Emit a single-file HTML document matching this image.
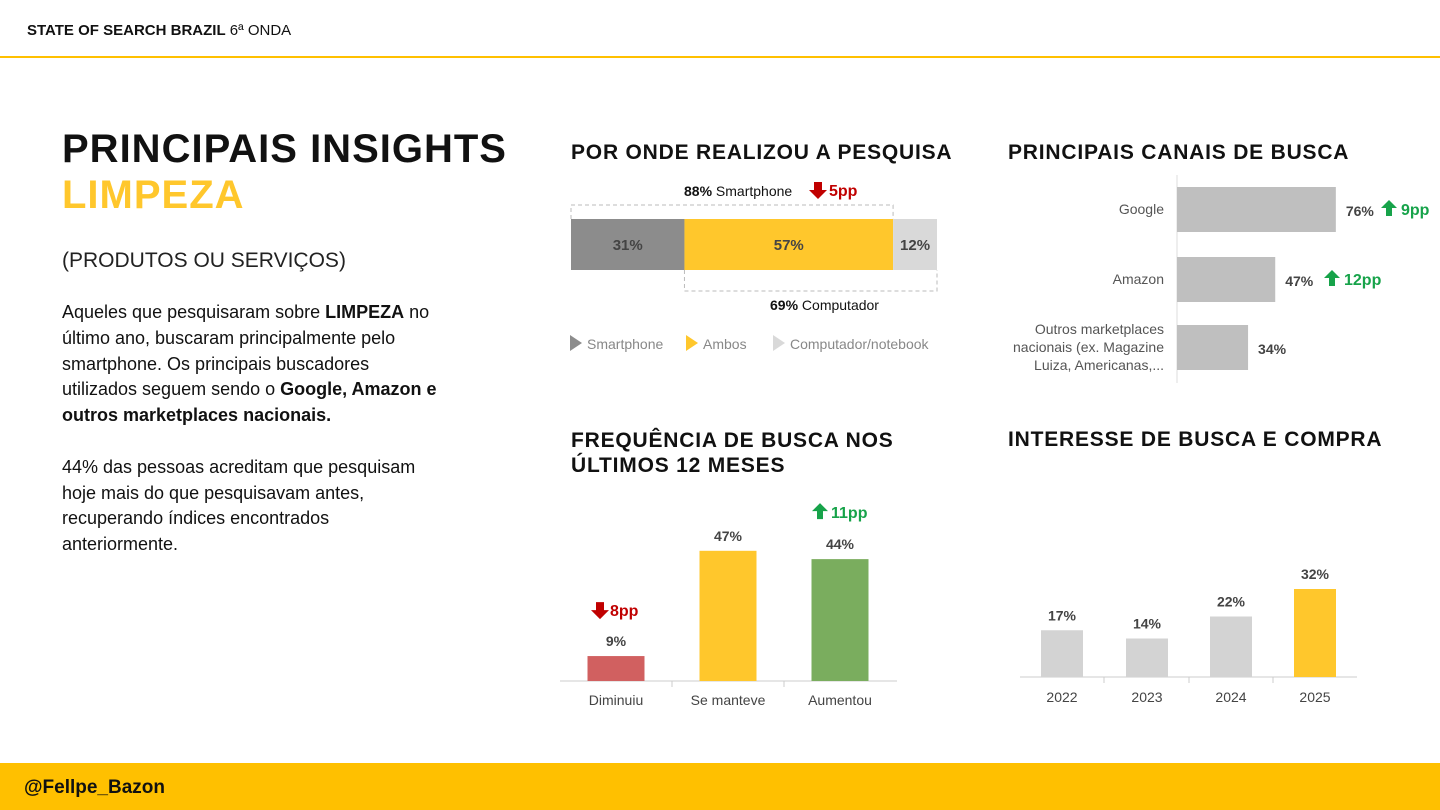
<!DOCTYPE html>
<html><head><meta charset="utf-8"><style>
body{margin:0;width:1440px;height:810px;position:relative;background:#fff;font-family:"Liberation Sans",sans-serif;overflow:hidden}
.a{position:absolute;white-space:nowrap}
.h{font-weight:bold;font-size:21px;color:#111;letter-spacing:0.8px}
</style></head><body>
<div class="a" style="left:27px;top:22px;font-size:15px;color:#111"><b>STATE OF SEARCH BRAZIL</b> 6ª ONDA</div>
<div class="a" style="left:0;top:56px;width:1440px;height:2px;background:#FFC000"></div>
<div class="a" style="left:62px;top:126px;font-size:40px;font-weight:bold;color:#111;line-height:46px;letter-spacing:1px">PRINCIPAIS INSIGHTS<br><span style="color:#FFC72C">LIMPEZA</span></div>
<div class="a" style="left:62px;top:249px;font-size:21px;color:#222">(PRODUTOS OU SERVIÇOS)</div>
<div class="a" style="left:62px;top:300px;font-size:18px;line-height:25.8px;color:#111;white-space:normal;width:380px">Aqueles que pesquisaram sobre <b>LIMPEZA</b> no último ano, buscaram principalmente pelo smartphone. Os principais buscadores utilizados seguem sendo o <b>Google, Amazon e outros marketplaces nacionais.</b><br><br>44% das pessoas acreditam que pesquisam hoje mais do que pesquisavam antes, recuperando índices encontrados anteriormente.</div>
<div class="a h" style="left:571px;top:141px">POR ONDE REALIZOU A PESQUISA</div>
<div class="a h" style="left:1008px;top:141px">PRINCIPAIS CANAIS DE BUSCA</div>
<div class="a h" style="left:571px;top:428px;line-height:25px">FREQUÊNCIA DE BUSCA NOS<br>ÚLTIMOS 12 MESES</div>
<div class="a h" style="left:1008px;top:428px">INTERESSE DE BUSCA E COMPRA</div>
<svg class="a" style="left:0;top:0" width="1440" height="810" id="s"></svg>
<div class="a" style="left:0;top:763px;width:1440px;height:47px;background:#FFC000"></div>
<div class="a" style="left:24px;top:777px;font-size:19px;font-weight:bold;color:#111">@Fellpe_Bazon</div>
<script>
const devCats=["Smartphone","Ambos","Computador/notebook"];
const devVals=[31,57,12];
const chCats=["Google","Amazon","Outros marketplaces|nacionais (ex. Magazine|Luiza, Americanas,..."];
const chVals=[76,47,34];
const chDelta=["9pp","12pp",""];
const frCats=["Diminuiu","Se manteve","Aumentou"];
const frVals=[9,47,44];
const inCats=["2022","2023","2024","2025"];
const inVals=[17,14,22,32];
const S=document.getElementById('s');const NS="http://www.w3.org/2000/svg";
function el(t,a,txt){const e=document.createElementNS(NS,t);for(const k in a)e.setAttribute(k,a[k]);if(txt!=null)e.textContent=txt;S.appendChild(e);return e;}
function tx(x,y,s,o){return el('text',Object.assign({x:x,y:y,'font-family':'Liberation Sans, sans-serif','font-size':14,fill:'#444'},o||{}),s);}
// chart 1
const dx=v=>571+v*366/100;const devCol=["#8c8c8c","#FFC72C","#d9d9d9"];
let acc=0;
devVals.forEach((v,i)=>{const r=el('rect',{x:dx(acc),y:219,width:dx(acc+v)-dx(acc),height:51,fill:devCol[i]});

tx((dx(acc)+dx(acc+v))/2,250,v+"%",{'text-anchor':'middle','font-weight':'bold',fill:'#444','font-size':15});acc+=v;});
const smTot=devVals[0]+devVals[1],pcTot=devVals[1]+devVals[2];
el('path',{d:`M${dx(0)},219 V205 H${dx(smTot)} V219`,fill:'none',stroke:'#bbb','stroke-dasharray':'4 3'});
el('path',{d:`M${dx(devVals[0])},270 V291 H${dx(100)} V270`,fill:'none',stroke:'#bbb','stroke-dasharray':'4 3'});
const t1=tx(684,196,"",{fill:'#111'});t1.innerHTML=`<tspan font-weight="bold">${smTot}%</tspan> Smartphone`;
el('path',{d:"M814,182h8v8h5l-9,9l-9,-9h5z",fill:'#c00000'});
tx(829,196,"5pp",{'font-weight':'bold',fill:'#c00000','font-size':16});
const t2=tx(770,310,"",{fill:'#111'});t2.innerHTML=`<tspan font-weight="bold">${pcTot}%</tspan> Computador`;
const lx=[570,686,773];
devCats.forEach((c,i)=>{el('path',{d:`M${lx[i]},335 l12,8 l-12,8z`,fill:devCol[i]});tx(lx[i]+17,349,c,{fill:'#888'});});
// chart 2
el('line',{x1:1177,y1:175,x2:1177,y2:383,stroke:'#ddd'});
const hy=[187,257,325];
chVals.forEach((v,i)=>{const w=v*2.09;const r=el('rect',{x:1177,y:hy[i],width:w,height:45,fill:'#bfbfbf'});

tx(1177+w+10,hy[i]+29,v+"%",{'font-weight':'bold',fill:'#444'});
const ls=chCats[i].split('|');ls.forEach((l,j)=>tx(1164,hy[i]+27-(ls.length-1)*9+j*18,l,{'text-anchor':'end',fill:'#555'}));
if(chDelta[i]){const ax=i==0?1381:1324,ay=hy[i]+13;el('path',{d:`M${ax+8},${ay} l8,8h-5v8h-6v-8h-5z`,fill:'#17a34a'});
tx(ax+20,ay+15,chDelta[i],{'font-weight':'bold',fill:'#17a34a','font-size':16});}});
// chart 3
const fb=681,fs=2.77,fc=[616,728,840],fcol=["#d16060","#FFC72C","#7aad5e"];
el('line',{x1:560,y1:fb,x2:897,y2:fb,stroke:'#ccc'});
[672,784].forEach(x=>el('line',{x1:x,y1:fb,x2:x,y2:fb+6,stroke:'#ccc'}));
frVals.forEach((v,i)=>{const h=v*fs;const r=el('rect',{x:fc[i]-28.5,y:fb-h,width:57,height:h,fill:fcol[i]});

tx(fc[i],fb-h-10,v+"%",{'text-anchor':'middle','font-weight':'bold',fill:'#444'});
tx(fc[i],705,frCats[i],{'text-anchor':'middle',fill:'#444'});});
{let t=fb-frVals[0]*fs-40;el('path',{d:`M596,${t-14}h8v8h5l-9,9l-9,-9h5z`,fill:'#c00000'});tx(610,t,"8pp",{'font-weight':'bold',fill:'#c00000','font-size':16});}
{let t=fb-frVals[2]*fs-41;el('path',{d:`M820,${t-15} l8,8h-5v8h-6v-8h-5z`,fill:'#17a34a'});tx(831,t,"11pp",{'font-weight':'bold',fill:'#17a34a','font-size':16});}
// chart 4
const ib=677,is=2.75,ic=[1062,1147,1231,1315];
el('line',{x1:1020,y1:ib,x2:1357,y2:ib,stroke:'#ccc'});
[1104,1189,1273].forEach(x=>el('line',{x1:x,y1:ib,x2:x,y2:ib+6,stroke:'#ccc'}));
inVals.forEach((v,i)=>{const h=v*is;const r=el('rect',{x:ic[i]-21,y:ib-h,width:42,height:h,fill:i==inVals.length-1?'#FFC72C':'#d3d3d3'});

tx(ic[i],ib-h-10,v+"%",{'text-anchor':'middle','font-weight':'bold',fill:'#444'});
tx(ic[i],702,inCats[i],{'text-anchor':'middle',fill:'#444'});});
</script>
</body></html>
